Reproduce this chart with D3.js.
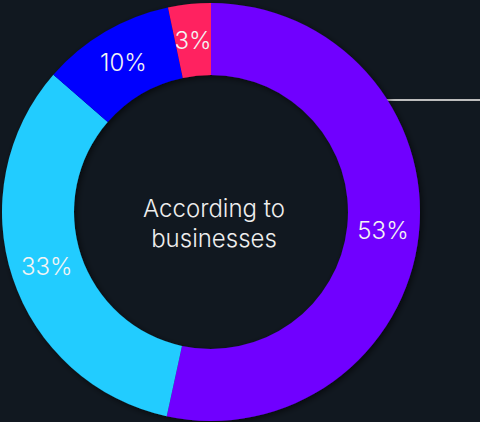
<!DOCTYPE html>
<html>
<head>
<meta charset="utf-8">
<script src="https://cdn.jsdelivr.net/npm/d3@7"></script>
<style>
  html, body { margin: 0; padding: 0; background: #111820; }
  svg { display: block; }
</style>
</head>
<body>
<svg id="chart" width="480" height="422"></svg>
<script>
const categories = ["A", "B", "C", "D"];
const values = [53.4, 33.0, 10.3, 3.3];
const labels = ["53%", "33%", "10%", "3%"];
const colors = ["#7000FF", "#22CCFF", "#0000FF", "#FF2060"];
const centerLines = ["According to", "businesses"];

const W = 480, H = 422;
const cx = 211, cy = 212, outerR = 209, innerR = 137;

const svg = d3.select("#chart");
svg.append("rect").attr("width", W).attr("height", H).attr("fill", "#111820");

const defs = svg.append("defs");
const f = defs.append("filter").attr("id", "shadow").attr("x", "-20%").attr("y", "-20%").attr("width", "140%").attr("height", "140%");
f.append("feDropShadow").attr("dx", 2).attr("dy", 2).attr("stdDeviation", 3).attr("flood-color", "#000").attr("flood-opacity", 0.6);

// connector line
svg.append("line")
  .attr("x1", 385).attr("x2", W).attr("y1", 100).attr("y2", 100)
  .attr("stroke", "#bdbdbd").attr("stroke-width", 2);

const color = d3.scaleOrdinal().domain(categories).range(colors);
const pie = d3.pie().sort(null).value((d, i) => values[i]);
const arcs = pie(categories);
const arc = d3.arc().innerRadius(innerR).outerRadius(outerR);

const g = svg.append("g").attr("transform", `translate(${cx},${cy})`);
const ring = g.append("g").attr("filter", "url(#shadow)");
ring.selectAll("path").data(arcs).join("path")
  .attr("d", arc)
  .attr("fill", d => color(d.data));

g.selectAll("text.lbl").data(arcs).join("text")
  .attr("class", "lbl")
  .attr("transform", d => `translate(${arc.centroid(d)})`)
  .attr("text-anchor", "middle")
  .attr("dy", "0.36em")
  .attr("fill", "#f4f4f4")
  .style("font-family", "Inter, 'Noto Sans', sans-serif")
  .style("font-weight", 300)
  .style("font-size", "24px")
  .text((d, i) => labels[i]);

const ct = g.append("text")
  .attr("text-anchor", "middle")
  .attr("fill", "#eeeeee")
  .style("font-family", "Inter, 'Noto Sans', sans-serif")
  .style("font-weight", 300)
  .style("font-size", "24px");
ct.selectAll("tspan").data(centerLines).join("tspan")
  .attr("x", 3)
  .attr("y", (d, i) => 5 + i * 30)
  .text(d => d);
</script>
</body>
</html>
